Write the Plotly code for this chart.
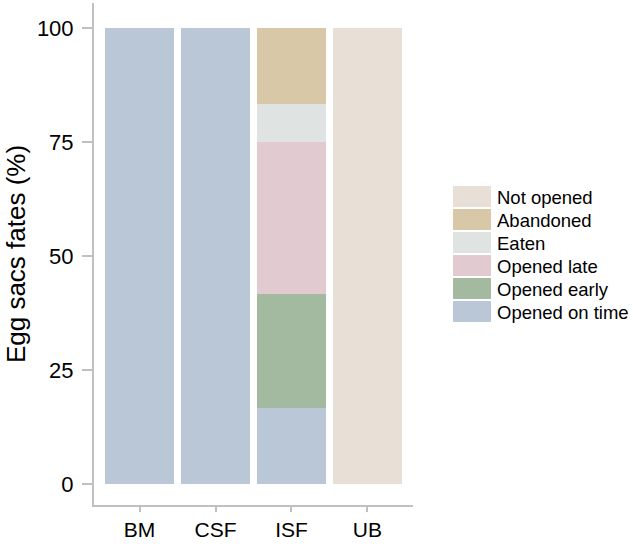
import plotly.graph_objects as go

categories = ["BM", "CSF", "ISF", "UB"]
fates = ["Opened on time", "Opened early", "Opened late", "Eaten", "Abandoned", "Not opened"]
opened_on_time = [100, 100, 16.67, 0]
opened_early = [0, 0, 25.0, 0]
opened_late = [0, 0, 33.33, 0]
eaten = [0, 0, 8.33, 0]
abandoned = [0, 0, 16.67, 0]
not_opened = [0, 0, 0, 100]
series = [opened_on_time, opened_early, opened_late, eaten, abandoned, not_opened]
colors = ["#bac7d7", "#a3b9a0", "#e2cbd0", "#dfe3e2", "#d8c8a7", "#e8e0d6"]
y_ticks = [0, 25, 50, 75, 100]

fig = go.Figure()
for name, vals, col in zip(fates, series, colors):
    fig.add_trace(go.Bar(x=categories, y=vals, name=name, marker=dict(color=col, line=dict(width=0)),
                         showlegend=False))

W, H = 633, 544
PL, PR, PT, PB = 94, 413, 3, 505
pw, ph = PR - PL, PB - PT

# custom legend (top entry = last stacked series)
top0, pitch, sh = 186, 23, 21
for i, (name, col) in enumerate(zip(fates[::-1], colors[::-1])):
    y0 = top0 + i * pitch
    fig.add_shape(type="rect", xref="paper", yref="paper",
                  x0=(453 - PL) / pw, x1=(491 - PL) / pw,
                  y0=(PB - (y0 + sh)) / ph, y1=(PB - y0) / ph,
                  fillcolor=col, line=dict(width=0), layer="above")
    fig.add_annotation(xref="paper", yref="paper", x=(495 - PL) / pw, y=(PB - (y0 + sh / 2 + 1)) / ph,
                       text=name, showarrow=False, xanchor="left", yanchor="middle",
                       font=dict(size=18.5, color="#000000", family="Liberation Sans, Arial, sans-serif"))

axis_col = "#c0c0c0"
fig.update_layout(
    barmode="stack", bargap=0.1,
    width=W, height=H,
    margin=dict(l=PL, r=W - PR, t=PT, b=H - PB),
    plot_bgcolor="white", paper_bgcolor="white",
    font=dict(family="Liberation Sans, Arial, sans-serif", color="#000000"),
    xaxis=dict(range=[-0.6, 3.6], showline=True, linecolor=axis_col, linewidth=2,
               ticks="outside", ticklen=5, tickcolor=axis_col, tickwidth=2, automargin=False,
               tickfont=dict(size=21), showgrid=False, zeroline=False),
    yaxis=dict(range=[-(PB - 484) / 4.56, (484 - PT) / 4.56], showline=True, linecolor=axis_col, linewidth=2,
               ticks="outside", ticklen=10, tickcolor=axis_col, tickwidth=2, automargin=False,
               tickvals=y_ticks, tickfont=dict(size=22), showgrid=False, zeroline=False,
               ticklabelstandoff=4,
               title=dict(text="Egg sacs fates (%)", font=dict(size=26), standoff=4)),
)

fig.write_html("out.html")
